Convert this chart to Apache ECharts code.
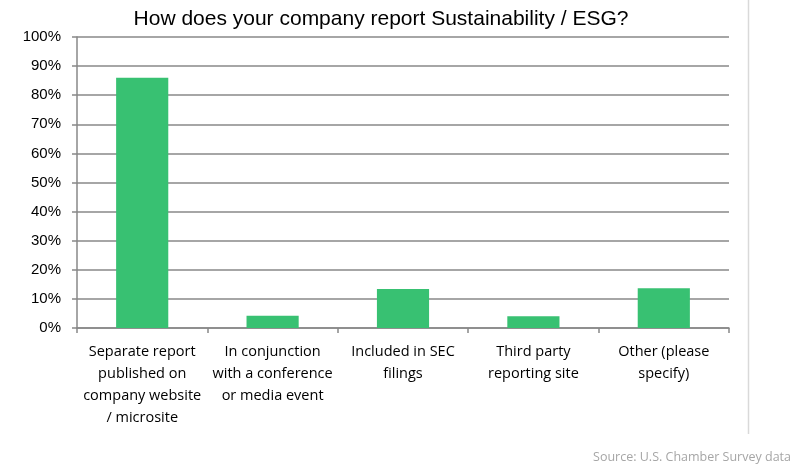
<!DOCTYPE html>
<html><head><meta charset="utf-8">
<script src="https://cdn.jsdelivr.net/npm/echarts@6/dist/echarts.min.js"></script>
<style>html,body{margin:0;padding:0;background:#fff}#c{width:800px;height:474px}</style>
</head><body><div id="c"></div>
<script>
const categories = [
  "Separate report\npublished on\ncompany website\n/ microsite",
  "In conjunction\nwith a conference\nor media event",
  "Included in SEC\nfilings",
  "Third party\nreporting site",
  "Other (please\nspecify)"
];
const values = [86, 4.2, 13.4, 4.0, 13.7];
const yTicks = [0, 10, 20, 30, 40, 50, 60, 70, 80, 90, 100];

const chart = echarts.init(document.getElementById('c'));
chart.setOption({
  animation: false,
  title: {
    text: 'How does your company report Sustainability / ESG?',
    left: 376, top: 4, textAlign: 'center',
    textStyle: { fontFamily: 'Liberation Sans, Arial', fontSize: 21, fontWeight: 'normal', color: '#000' }
  },
  graphic: [
    { type: 'line', shape: { x1: 748.5, y1: 0, x2: 748.5, y2: 434 }, style: { stroke: '#d9d9d9', lineWidth: 1.5 } },
    { type: 'text', right: 9, top: 451, style: { text: 'Source: U.S. Chamber Survey data', fill: '#a6a6a6', font: '12.5px "Open Sans", sans-serif' } }
  ],
  grid: { left: 77, right: 71, top: 37, bottom: 146 },
  xAxis: {
    type: 'category', data: categories,
    axisLine: { lineStyle: { color: '#888', width: 1.5 } },
    axisTick: { show: true, length: 5, lineStyle: { color: '#888', width: 1.5 } },
    axisLabel: { interval: 0, color: '#000', fontFamily: 'Open Sans, Lato, sans-serif', fontSize: 14.5, lineHeight: 22, margin: 13 }
  },
  yAxis: {
    type: 'value', min: 0, max: 100, interval: 10,
    axisLine: { show: true, lineStyle: { color: '#888', width: 1.5 } },
    axisTick: { show: true, length: 5, inside: false, lineStyle: { color: '#888', width: 1.5 } },
    splitLine: { lineStyle: { color: '#888', width: 1.5 } },
    axisLabel: { color: '#000', fontFamily: 'Liberation Sans, Arial', fontSize: 15, margin: 16,
      formatter: v => yTicks.includes(v) ? v + '%' : '' }
  },
  series: [{
    type: 'bar', data: values, barWidth: '40%',
    itemStyle: { color: '#38c172' }
  }]
});
</script></body></html>
